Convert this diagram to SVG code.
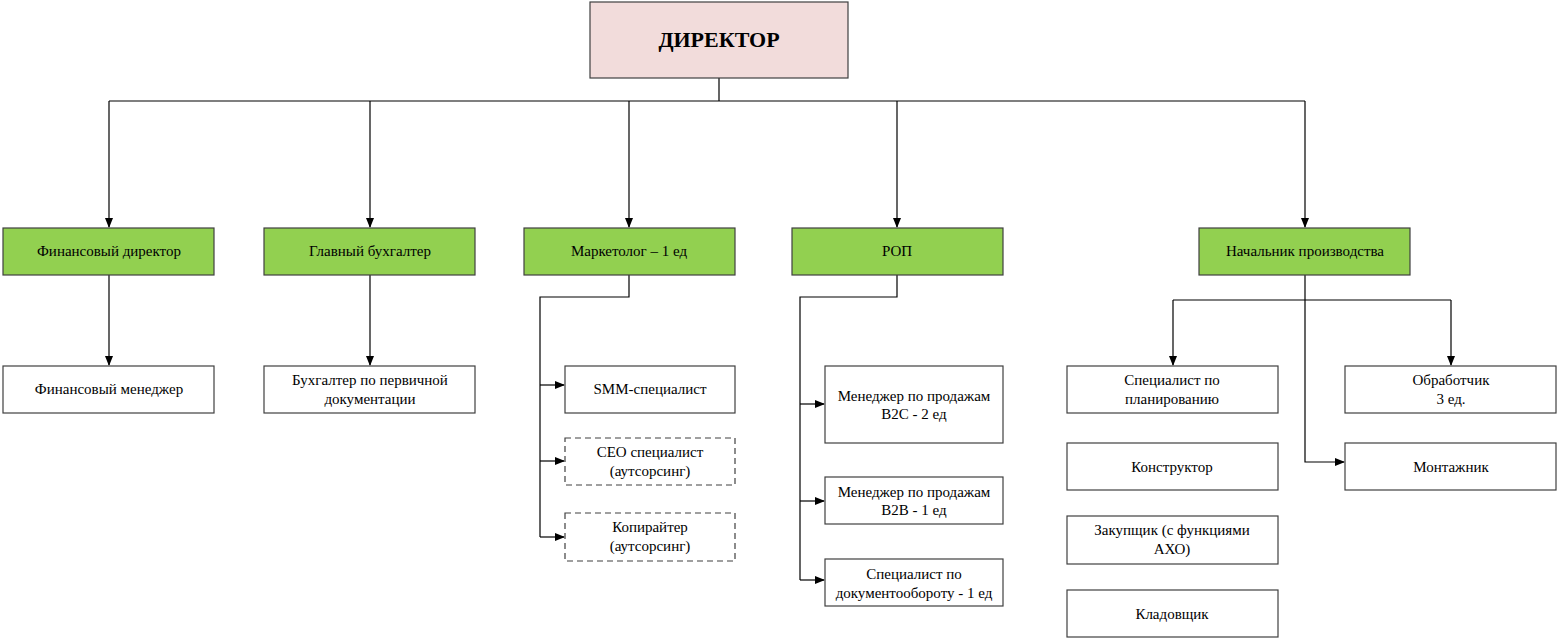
<svg xmlns="http://www.w3.org/2000/svg" width="1560" height="639" viewBox="0 0 1560 639">
<style>
.b{fill:#fff;stroke:#404040;stroke-width:1.2}
.g{fill:#92d050;stroke:#404040;stroke-width:1.2}
.d{fill:#fff;stroke:#404040;stroke-width:1.2;stroke-dasharray:6,4}
text{font-family:"Liberation Serif",serif;font-size:15px;fill:#000;text-anchor:middle}
.c path{fill:none;stroke:#000;stroke-width:1.2}
</style>
<defs><marker id="a" markerWidth="10" markerHeight="8" refX="9" refY="4" orient="auto" markerUnits="userSpaceOnUse"><path d="M0,0L10,4L0,8z" fill="#000"/></marker></defs>
<rect width="1560" height="639" fill="#fff"/>
<g class="c">
<path d="M719,78V101M109,101H1305"/>
<path d="M109,101V227" marker-end="url(#a)"/>
<path d="M370,101V227" marker-end="url(#a)"/>
<path d="M629,101V227" marker-end="url(#a)"/>
<path d="M897,101V227" marker-end="url(#a)"/>
<path d="M1305,101V227" marker-end="url(#a)"/>
<path d="M109,275V365" marker-end="url(#a)"/>
<path d="M370,275V365" marker-end="url(#a)"/>
<path d="M629,275V297H540V537"/>
<path d="M540,385H564" marker-end="url(#a)"/>
<path d="M540,461H564" marker-end="url(#a)"/>
<path d="M540,537H564" marker-end="url(#a)"/>
<path d="M897,275V297H800V580"/>
<path d="M800,404H824" marker-end="url(#a)"/>
<path d="M800,501H824" marker-end="url(#a)"/>
<path d="M800,580H824" marker-end="url(#a)"/>
<path d="M1305,275V462H1344" marker-end="url(#a)"/>
<path d="M1173,300H1451"/>
<path d="M1173,300V365" marker-end="url(#a)"/>
<path d="M1451,300V365" marker-end="url(#a)"/>
</g>
<g id="dir"><rect x="590" y="2" width="258" height="76" fill="#f2dcdb" stroke="#404040" stroke-width="1.2"/><text x="719" y="47" style="font-size:22px;font-weight:bold">ДИРЕКТОР</text></g>
<g id="fin"><rect class="g" x="3" y="228" width="211" height="47"/><text x="109" y="256">Финансовый директор</text></g>
<g id="glav"><rect class="g" x="264" y="228" width="211" height="47"/><text x="370" y="256">Главный бухгалтер</text></g>
<g id="mark"><rect class="g" x="524" y="228" width="211" height="47"/><text x="629" y="256">Маркетолог – 1 ед</text></g>
<g id="rop"><rect class="g" x="792" y="228" width="211" height="47"/><text x="897" y="256">РОП</text></g>
<g id="nach"><rect class="g" x="1199" y="228" width="211" height="47"/><text x="1305" y="256">Начальник производства</text></g>
<g id="finm"><rect class="b" x="3" y="366" width="211" height="47"/><text x="109" y="394">Финансовый менеджер</text></g>
<g id="buh"><rect class="b" x="264" y="366" width="211" height="47"/><text x="370" y="385">Бухгалтер по первичной</text><text x="370" y="404">документации</text></g>
<g id="smm"><rect class="b" x="565" y="366" width="170" height="47"/><text x="650" y="394">SMM-специалист</text></g>
<g id="ceo"><rect class="d" x="565" y="438" width="170" height="47"/><text x="650" y="457">СЕО специалист</text><text x="650" y="476">(аутсорсинг)</text></g>
<g id="kop"><rect class="d" x="565" y="513" width="170" height="48"/><text x="650" y="532">Копирайтер</text><text x="650" y="551">(аутсорсинг)</text></g>
<g id="b2c"><rect class="b" x="825" y="366" width="178" height="77"/><text x="914" y="401">Менеджер по продажам</text><text x="914" y="419">B2C - 2 ед</text></g>
<g id="b2b"><rect class="b" x="825" y="477" width="178" height="47"/><text x="914" y="497">Менеджер по продажам</text><text x="914" y="515">B2B - 1 ед</text></g>
<g id="doc"><rect class="b" x="825" y="559" width="178" height="47"/><text x="914" y="579">Специалист по</text><text x="914" y="598">документообороту - 1 ед</text></g>
<g id="plan"><rect class="b" x="1067" y="366" width="211" height="47"/><text x="1172" y="385">Специалист по</text><text x="1172" y="404">планированию</text></g>
<g id="kon"><rect class="b" x="1067" y="443" width="211" height="47"/><text x="1172" y="472">Конструктор</text></g>
<g id="zak"><rect class="b" x="1067" y="516" width="211" height="48"/><text x="1172" y="535">Закупщик (с функциями</text><text x="1172" y="554">АХО)</text></g>
<g id="kla"><rect class="b" x="1067" y="590" width="211" height="47"/><text x="1172" y="619">Кладовщик</text></g>
<g id="obr"><rect class="b" x="1345" y="366" width="211" height="47"/><text x="1451" y="385">Обработчик</text><text x="1451" y="404">3 ед.</text></g>
<g id="mon"><rect class="b" x="1345" y="443" width="211" height="47"/><text x="1451" y="472">Монтажник</text></g>
</svg>
